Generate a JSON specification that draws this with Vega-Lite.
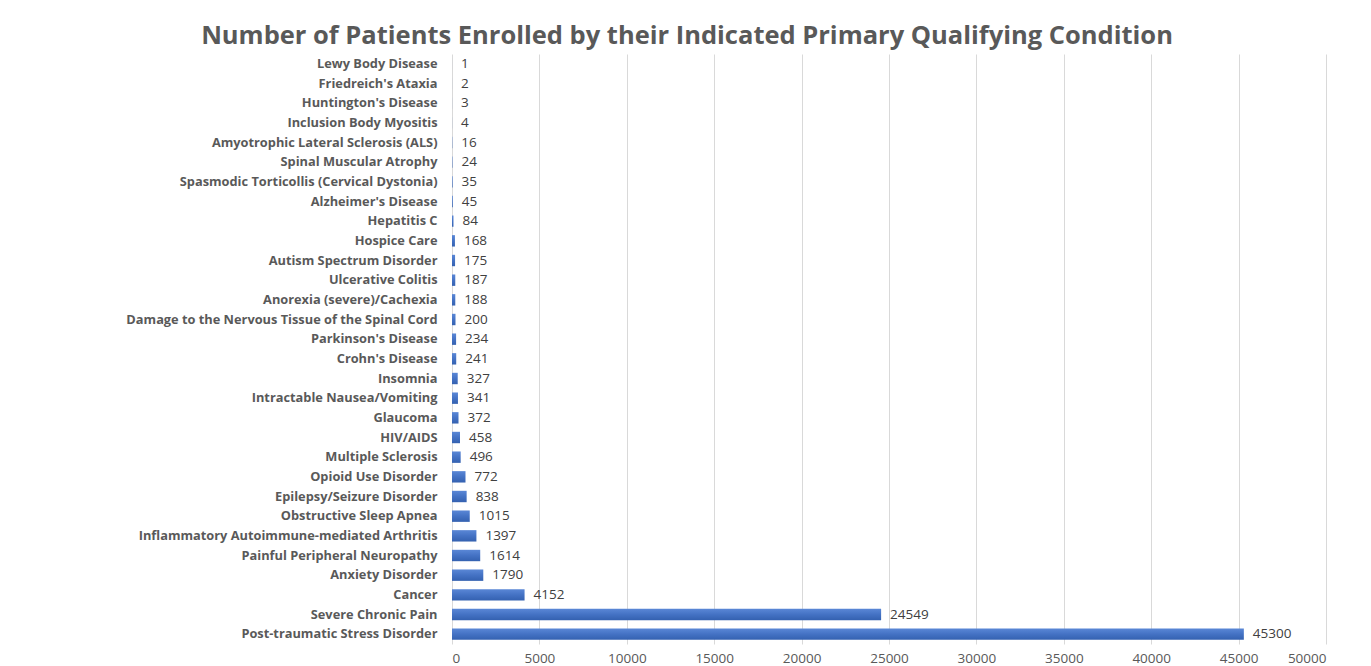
{
  "$schema": "https://vega.github.io/schema/vega-lite/v6.json",
  "width": 874,
  "height": 590,
  "autosize": {"type": "none"},
  "padding": {"left": 452, "top": 54, "right": 45, "bottom": 22},
  "background": "#ffffff",
  "title": {
    "text": "Number of Patients Enrolled by their Indicated Primary Qualifying Condition",
    "font": "Open Sans",
    "fontSize": 25.5,
    "fontWeight": "bold",
    "color": "#595959",
    "anchor": "middle",
    "dx": -202,
    "offset": 5
  },
  "data": {
    "values": [
      {"condition": "Lewy Body Disease", "patients": 1},
      {"condition": "Friedreich's Ataxia", "patients": 2},
      {"condition": "Huntington's Disease", "patients": 3},
      {"condition": "Inclusion Body Myositis", "patients": 4},
      {"condition": "Amyotrophic Lateral Sclerosis (ALS)", "patients": 16},
      {"condition": "Spinal Muscular Atrophy", "patients": 24},
      {"condition": "Spasmodic Torticollis (Cervical Dystonia)", "patients": 35},
      {"condition": "Alzheimer's Disease", "patients": 45},
      {"condition": "Hepatitis C", "patients": 84},
      {"condition": "Hospice Care", "patients": 168},
      {"condition": "Autism Spectrum Disorder", "patients": 175},
      {"condition": "Ulcerative Colitis", "patients": 187},
      {"condition": "Anorexia (severe)/Cachexia", "patients": 188},
      {"condition": "Damage to the Nervous Tissue of the Spinal Cord", "patients": 200},
      {"condition": "Parkinson's Disease", "patients": 234},
      {"condition": "Crohn's Disease", "patients": 241},
      {"condition": "Insomnia", "patients": 327},
      {"condition": "Intractable Nausea/Vomiting", "patients": 341},
      {"condition": "Glaucoma", "patients": 372},
      {"condition": "HIV/AIDS", "patients": 458},
      {"condition": "Multiple Sclerosis", "patients": 496},
      {"condition": "Opioid Use Disorder", "patients": 772},
      {"condition": "Epilepsy/Seizure Disorder", "patients": 838},
      {"condition": "Obstructive Sleep Apnea", "patients": 1015},
      {"condition": "Inflammatory Autoimmune-mediated Arthritis", "patients": 1397},
      {"condition": "Painful Peripheral Neuropathy", "patients": 1614},
      {"condition": "Anxiety Disorder", "patients": 1790},
      {"condition": "Cancer", "patients": 4152},
      {"condition": "Severe Chronic Pain", "patients": 24549},
      {"condition": "Post-traumatic Stress Disorder", "patients": 45300}
    ]
  },
  "encoding": {
    "y": {
      "field": "condition",
      "type": "nominal",
      "sort": {"field": "patients", "order": "ascending"},
      "scale": {"paddingInner": 0.42, "paddingOuter": 0.21},
      "axis": {
        "title": null,
        "ticks": false,
        "domain": false,
        "labelFont": "Open Sans",
        "labelFontSize": 12.8,
        "labelFontWeight": "bold",
        "labelColor": "#595959",
        "labelPadding": 15,
        "labelLimit": 440
      }
    },
    "x": {
      "field": "patients",
      "type": "quantitative",
      "scale": {"domain": [0, 50000], "nice": false},
      "axis": {
        "title": null,
        "values": [0, 5000, 10000, 15000, 20000, 25000, 30000, 35000, 40000, 45000, 50000],
        "format": "d",
        "ticks": false,
        "domain": false,
        "grid": true,
        "gridColor": "#D9D9D9",
        "gridWidth": 1,
        "labelFont": "Open Sans",
        "labelFontSize": 13.5,
        "labelColor": "#595959",
        "labelPadding": 7
      }
    }
  },
  "layer": [
    {
      "mark": {
        "type": "bar",
        "color": {
          "gradient": "linear",
          "x1": 0, "y1": 0, "x2": 0, "y2": 1,
          "stops": [
            {"offset": 0, "color": "#5A87D6"},
            {"offset": 0.5, "color": "#4472C4"},
            {"offset": 1, "color": "#3461B0"}
          ]
        }
      }
    },
    {
      "mark": {
        "type": "text",
        "align": "left",
        "baseline": "middle",
        "dx": 9,
        "font": "Open Sans",
        "fontSize": 13.5,
        "color": "#404040"
      },
      "encoding": {
        "text": {"field": "patients", "type": "quantitative", "format": "d"}
      }
    }
  ],
  "config": {
    "view": {"stroke": null}
  }
}
